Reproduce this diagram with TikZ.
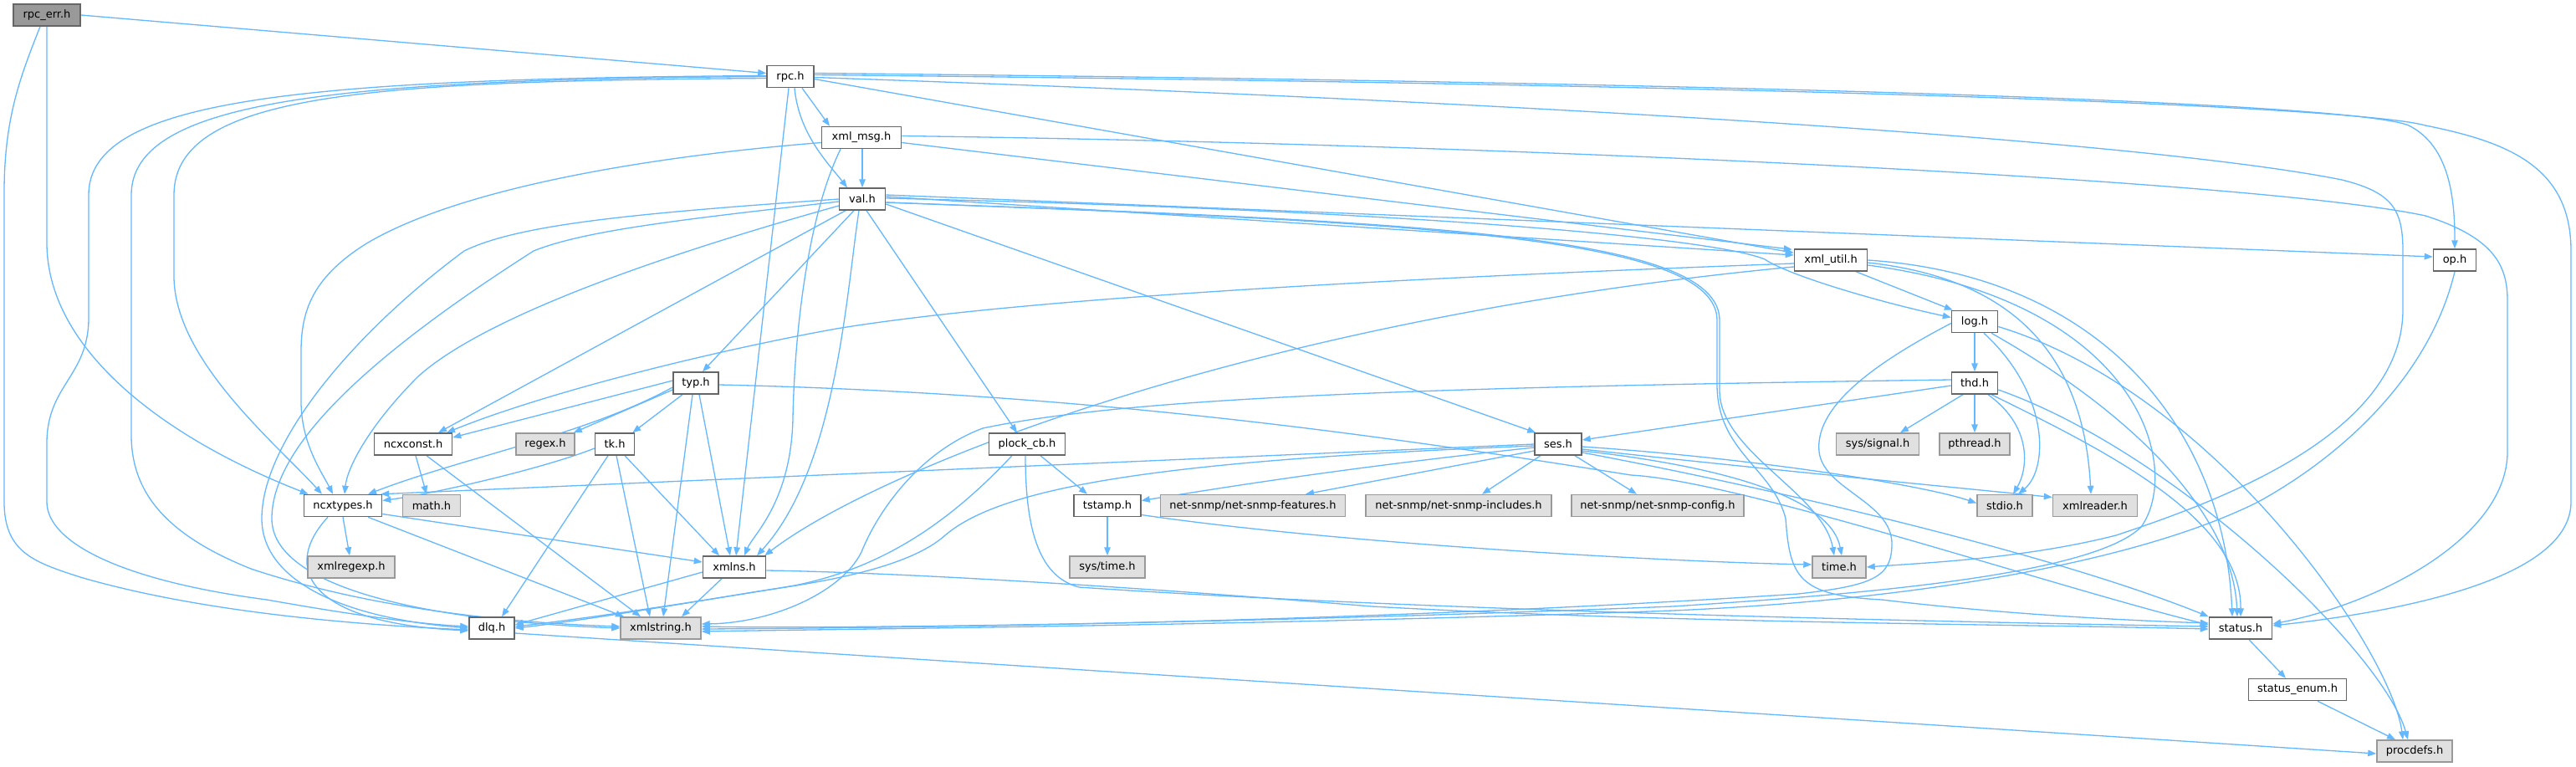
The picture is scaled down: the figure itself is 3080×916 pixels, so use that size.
\documentclass[tikz,border=0pt]{standalone}
\usepackage{fontspec}
\setmainfont{DejaVu Sans}
\usetikzlibrary{arrows.meta}
\definecolor{eblue}{HTML}{63B8FF}
\definecolor{nborder}{HTML}{666666}
\definecolor{xborder}{HTML}{999999}
\definecolor{xfill}{HTML}{E0E0E0}
\definecolor{cfill}{HTML}{999999}
\pgfdeclarelayer{back}
\pgfdeclarelayer{bg}
\pgfsetlayers{back,bg,main}
\begin{document}
\begin{tikzpicture}[x=1pt,y=-1pt,
  nd/.style={draw=nborder, fill=white, line width=1.5pt, minimum height=26pt, inner sep=0pt, font=\fontsize{13}{15}\selectfont, text=black},
  ext/.style={nd, draw=xborder, fill=xfill},
  cur/.style={nd, fill=cfill},
  e/.style={draw=eblue, line width=1.3pt, -{Triangle[length=10pt,width=7.5pt]}}]
\begin{pgfonlayer}{back}
\fill[white] (0,0) rectangle (3080,916);
\end{pgfonlayer}
\useasboundingbox (0,0) rectangle (3080,916);
% nodes
\node[cur, minimum width=80pt] (rpcerr) at (56,18) {rpc\_err.h};
\node[nd, minimum width=56pt] (rpc) at (945,91.5) {rpc.h};
\node[nd, minimum width=95pt] (xmlmsg) at (1030,164.5) {xml\_msg.h};
\node[nd, minimum width=55pt] (val) at (1031,238) {val.h};
\node[nd, minimum width=87pt] (xmlutil) at (2189,311) {xml\_util.h};
\node[nd, minimum width=51pt] (op) at (2935,311) {op.h};
\node[nd, minimum width=55pt] (log) at (2361,384.5) {log.h};
\node[nd, minimum width=54pt] (typ) at (832,458) {typ.h};
\node[nd, minimum width=55pt] (thd) at (2361,458) {thd.h};
\node[nd, minimum width=93pt] (ncxconst) at (494,531) {ncxconst.h};
\node[ext, minimum width=70pt] (regex) at (652,531) {regex.h};
\node[nd, minimum width=47pt] (tk) at (735,531) {tk.h};
\node[nd, minimum width=91pt] (plock) at (1228,531) {plock\_cb.h};
\node[nd, minimum width=56pt] (ses) at (1863,531) {ses.h};
\node[ext, minimum width=99pt] (syssignal) at (2245,531) {sys/signal.h};
\node[ext, minimum width=84pt] (pthread) at (2361,531) {pthread.h};
\node[nd, minimum width=93pt] (ncxtypes) at (410,604.5) {ncxtypes.h};
\node[ext, minimum width=69pt] (math) at (516,604.5) {math.h};
\node[nd, minimum width=80pt] (tstamp) at (1324,604.5) {tstamp.h};
\node[ext, minimum width=221pt] (nsfeat) at (1498,604.5) {net-snmp/net-snmp-features.h};
\node[ext, minimum width=222pt] (nsinc) at (1744,604.5) {net-snmp/net-snmp-includes.h};
\node[ext, minimum width=206pt] (nsconf) at (1982,604.5) {net-snmp/net-snmp-config.h};
\node[ext, minimum width=66pt] (stdio) at (2397,604.5) {stdio.h};
\node[ext, minimum width=101pt] (xmlreader) at (2505,604.5) {xmlreader.h};
\node[ext, minimum width=104pt] (xmlregexp) at (420,678) {xmlregexp.h};
\node[nd, minimum width=75pt] (xmlns) at (878,678) {xmlns.h};
\node[ext, minimum width=90pt] (systime) at (1324,678) {sys/time.h};
\node[ext, minimum width=64pt] (time) at (2199,678) {time.h};
\node[nd, minimum width=54pt] (dlq) at (588,751) {dlq.h};
\node[ext, minimum width=96pt] (xmlstring) at (790,751) {xmlstring.h};
\node[nd, minimum width=75pt] (status) at (2679,751) {status.h};
\node[nd, minimum width=117pt] (statusenum) at (2747,824.5) {status\_enum.h};
\node[ext, minimum width=90pt] (procdefs) at (2887,898) {procdefs.h};
\begin{pgfonlayer}{bg}
% rpc_err.h
\draw[e] (rpcerr.east) -- ([yshift=4pt]rpc.west);
\draw[e] (rpcerr.south) -- (56,290) .. controls (56,420) and (200,525) .. ([xshift=6pt]ncxtypes.north west);
\draw[e] ([xshift=-8pt]rpcerr.south) .. controls (25,90) and (5,140) .. (5,230) -- (5,600) .. controls (5,660) and (40,672) .. (96,690) .. controls (250,735) and (450,748) .. ([yshift=-2pt]dlq.west);
% rpc.h
\draw[e] ([xshift=14pt]rpc.south) -- ([xshift=-38pt]xmlmsg.north);
\draw[e] ([xshift=5pt]rpc.south) .. controls (955,160) and (990,195) .. ([xshift=-18pt]val.north);
\draw[e] ([xshift=-2pt]rpc.south) -- ([xshift=2pt]xmlns.north);
\draw[e] ([yshift=-2pt]rpc.west) .. controls (450,97) and (208,110) .. (208,233) -- (208,330) .. controls (208,430) and (330,530) .. ([xshift=-25pt]ncxtypes.north);
\draw[e] ([yshift=1pt]rpc.west) .. controls (350,94) and (106,120) .. (106,233) -- (106,380) .. controls (106,450) and (56,460) .. (56,530) -- (56,600) .. controls (56,650) and (150,695) .. (319,717) .. controls (420,735) and (500,746) .. ([yshift=2pt]dlq.west);
\draw[e] (rpc.west) .. controls (400,95) and (157,120) .. (157,233) -- (157,520) .. controls (157,590) and (200,640) .. (300,680) .. controls (450,730) and (620,745) .. ([yshift=2pt]xmlstring.west);
\draw[e] ([yshift=-3pt]rpc.east) -- ([yshift=-5pt]xmlutil.north west);
\draw[e] ([yshift=4pt]rpc.east) .. controls (2200,100) and (2820,125) .. (2880,150) .. controls (2930,175) and (2935,240) .. (op.north);
\draw[e] ([yshift=2pt]rpc.east) .. controls (2200,102) and (2820,128) .. (2900,150) .. controls (3000,170) and (3074,200) .. (3074,300) -- (3074,600) .. controls (3074,690) and (2880,730) .. ([yshift=3pt]status.east);
\draw[e] ([yshift=-1pt]rpc.east) .. controls (2000,128) and (2600,175) .. (2800,215) .. controls (2860,230) and (2873,250) .. (2873,300) -- (2873,370) .. controls (2873,520) and (2650,600) .. (2530,640) .. controls (2420,668) and (2300,673) .. (time.east);
% xml_msg.h
\draw[e] ([xshift=1pt]xmlmsg.south) -- (val.north);
\draw[e] ([yshift=-6pt]xmlmsg.west) .. controls (800,185) and (560,220) .. (440,290) .. controls (375,330) and (360,370) .. (360,420) -- (360,480) .. controls (360,530) and (385,565) .. ([xshift=-12pt]ncxtypes.north);
\draw[e] ([xshift=-25pt]xmlmsg.south) .. controls (965,260) and (950,400) .. (948,500) .. controls (946,600) and (900,640) .. ([xshift=12pt]xmlns.north);
\draw[e] ([yshift=-6pt]xmlmsg.east) -- ([xshift=-2pt,yshift=-1pt]xmlutil.north west);
\draw[e] ([yshift=2pt]xmlmsg.east) .. controls (1800,172) and (2700,215) .. (2900,258) .. controls (2985,285) and (2998,320) .. (2998,360) -- (2998,540) .. controls (2998,640) and (2850,720) .. ([yshift=5pt]status.east);
% val.h
\draw[e] (val.west) .. controls (760,255) and (620,268) .. (555,300) .. controls (420,400) and (313,530) .. (313,620) .. controls (313,690) and (400,738) .. (dlq.west);
\draw[e] ([yshift=-3pt]val.west) .. controls (820,262) and (700,275) .. (638,300) .. controls (450,420) and (325,530) .. (325,620) .. controls (325,700) and (500,742) .. (xmlstring.west);
\draw[e] ([yshift=-8pt]val.west) .. controls (900,275) and (600,360) .. (500,450) .. controls (440,510) and (415,560) .. ([xshift=2pt]ncxtypes.north);
\draw[e] ([xshift=-20pt]val.south) -- ([xshift=30pt]ncxconst.north);
\draw[e] ([xshift=-10pt]val.south) -- ([xshift=8pt]typ.north);
\draw[e] ([xshift=-4pt]val.south) .. controls (1012,350) and (1000,560) .. ([xshift=27pt]xmlns.north);
\draw[e] ([xshift=5pt]val.south) -- ([xshift=-12pt]plock.north);
\draw[e] ([yshift=-6pt]val.east) -- ([xshift=2pt]ses.north west);
\draw[e] ([yshift=3pt]val.east) -- ([yshift=6pt]xmlutil.west);
\draw[e] ([yshift=5pt]val.east) -- ([yshift=4pt]op.west);
\draw[e] ([yshift=1pt]val.east) .. controls (1700,252) and (2050,285) .. (2110,310) .. controls (2140,330) and (2250,362) .. ([yshift=5pt]log.west);
\draw[e] ([yshift=-4pt]val.east) .. controls (1700,265) and (2056,280) .. (2056,383) -- (2056,467) .. controls (2056,540) and (2180,590) .. ([xshift=-6pt]time.north);
\draw[e] ([yshift=-4pt]val.east) .. controls (1700,266) and (2053,282) .. (2053,383) -- (2053,460) .. controls (2053,540) and (2120,560) .. (2135,620) .. controls (2140,690) and (2150,712) .. (2250,717) .. controls (2400,735) and (2550,742) .. ([yshift=6pt]status.west);
% typ.h
\draw[e] ([yshift=3pt]typ.west) -- ([yshift=8pt]ncxconst.east);
\draw[e] ([yshift=-8pt]typ.west) -- ([xshift=-2pt]regex.north east);
\draw[e] ([xshift=-16pt]typ.south) -- ([xshift=-3pt]tk.north east);
\draw[e] ([yshift=-5pt]typ.west) .. controls (700,520) and (560,545) .. ([xshift=30pt]ncxtypes.north);
\draw[e] ([xshift=-4pt]typ.south) -- ([xshift=3pt]xmlstring.north);
\draw[e] ([xshift=4pt]typ.south) -- ([xshift=-5pt]xmlns.north);
\draw[e] ([yshift=-2pt]typ.east) .. controls (1300,470) and (1650,520) .. (1950,568) .. controls (2080,575) and (2450,700) .. ([yshift=4pt]status.west);
% tk.h
\draw[e] ([yshift=-5pt]tk.west) .. controls (650,560) and (520,590) .. ([yshift=6pt]ncxtypes.east);
\draw[e] ([xshift=-8pt]tk.south) -- ([xshift=12pt]dlq.north);
\draw[e] ([xshift=2pt]tk.south) -- ([xshift=-13pt]xmlstring.north);
\draw[e] ([xshift=12pt]tk.south) -- ([xshift=-18pt]xmlns.north);
% ncxconst.h
\draw[e] ([xshift=3pt]ncxconst.south) -- ([xshift=-6pt]math.north);
\draw[e] ([xshift=16pt]ncxconst.south) -- ([xshift=-24pt]xmlstring.north);
% ncxtypes.h
\draw[e] (ncxtypes.south) -- ([xshift=-2pt]xmlregexp.north);
\draw[e] ([yshift=-10pt]ncxtypes.east) -- ([yshift=6pt]xmlns.west);
\draw[e] ([xshift=-18pt]ncxtypes.south) .. controls (335,680) and (370,745) .. ([yshift=-3pt]dlq.west);
\draw[e] ([xshift=30pt]ncxtypes.south) -- ([xshift=-44pt]xmlstring.north);
% xmlns.h
\draw[e] ([yshift=-6pt]xmlns.west) -- ([yshift=4pt]dlq.east);
\draw[e] ([xshift=-15pt]xmlns.south) -- ([xshift=25pt]xmlstring.north);
\draw[e] ([yshift=-4pt]xmlns.east) .. controls (1050,684) and (1300,697) .. (1640,725) .. controls (2000,745) and (2400,746) .. ([yshift=-1pt]status.west);
% dlq.h
\draw[e] ([yshift=-6pt]dlq.east) -- ([yshift=-3pt]procdefs.west);
% plock_cb.h
\draw[e] ([xshift=16pt]plock.south) -- ([xshift=-24pt]tstamp.north);
\draw[e] ([xshift=-18pt]plock.south) .. controls (1130,630) and (1050,680) .. (950,700) .. controls (800,725) and (680,742) .. ([yshift=2pt]dlq.east);
\draw[e] ([xshift=-2pt]plock.south) .. controls (1226,640) and (1245,690) .. (1290,702) .. controls (1700,730) and (2300,743) .. ([yshift=2pt]status.west);
% ses.h
\draw[e] (ses.west) -- ([xshift=-2pt]ncxtypes.north east);
\draw[e] ([yshift=-4pt]ses.west) .. controls (1600,560) and (1450,585) .. ([yshift=6pt]tstamp.east);
\draw[e] ([yshift=-2pt]ses.west) .. controls (1400,550) and (1200,580) .. (1130,640) .. controls (1080,685) and (950,700) .. (900,708) .. controls (780,728) and (680,744) .. (dlq.east);
\draw[e] ([yshift=-8pt]ses.west) -- ([xshift=63pt]nsfeat.north);
\draw[e] ([xshift=-21pt]ses.south) -- ([xshift=28pt]nsinc.north);
\draw[e] ([xshift=20pt]ses.south) -- ([xshift=-25pt]nsconf.north);
\draw[e] ([yshift=-3pt]ses.east) .. controls (2100,548) and (2300,580) .. ([yshift=3pt]stdio.west);
\draw[e] ([yshift=-6pt]ses.east) .. controls (2100,560) and (2330,582) .. ([yshift=10pt]xmlreader.west);
\draw[e] ([yshift=-8pt]ses.east) .. controls (2080,560) and (2190,600) .. ([xshift=3pt]time.north);
\draw[e] ([yshift=-10pt]ses.east) .. controls (2100,580) and (2450,660) .. (status.north west);
% tstamp.h
\draw[e] (tstamp.south) -- (systime.north);
\draw[e] ([yshift=-11pt]tstamp.east) .. controls (1600,650) and (2000,672) .. ([yshift=3pt]time.west);
% xml_util.h
\draw[e] ([xshift=30pt]xmlutil.south) -- ([xshift=2pt]log.north west);
\draw[e] ([yshift=-4pt]xmlutil.west) .. controls (1600,335) and (1200,360) .. (1000,393) .. controls (850,420) and (650,470) .. ([xshift=40pt]ncxconst.north);
\draw[e] ([yshift=-8pt]xmlutil.west) .. controls (1500,380) and (1050,560) .. ([xshift=-2pt]xmlns.north east);
\draw[e] ([yshift=-3pt]xmlutil.east) .. controls (2380,330) and (2490,400) .. ([xshift=-5pt]xmlreader.north);
\draw[e] (xmlutil.east) .. controls (2520,330) and (2660,520) .. ([xshift=-10pt]status.north);
\draw[e] ([yshift=-6pt]xmlutil.east) .. controls (2560,360) and (2610,560) .. (2560,630) .. controls (2500,690) and (2200,712) .. (2000,725) .. controls (1500,745) and (1000,752) .. ([yshift=2pt]xmlstring.east);
% log.h
\draw[e] (log.south) -- (thd.north);
\draw[e] ([xshift=11pt]log.south) .. controls (2450,470) and (2450,560) .. ([xshift=16pt]stdio.north);
\draw[e] ([xshift=20pt]log.south) .. controls (2560,500) and (2670,620) .. ([xshift=-4pt]status.north);
\draw[e] ([yshift=-6pt]log.east) .. controls (2650,470) and (2860,780) .. ([xshift=-14pt]procdefs.north);
\draw[e] ([yshift=-2pt]log.west) .. controls (2230,440) and (2170,490) .. (2175,540) .. controls (2180,585) and (2262,600) .. (2262,650) .. controls (2262,690) and (2240,700) .. (2150,710) .. controls (1700,740) and (1200,750) .. ([yshift=-1pt]xmlstring.east);
% thd.h
\draw[e] ([yshift=-3pt]thd.west) -- ([yshift=5pt]ses.east);
\draw[e] ([yshift=4pt]thd.west) .. controls (1700,463) and (1350,475) .. (1175,512) .. controls (1100,540) and (1050,610) .. (1030,660) .. controls (1005,710) and (920,745) .. ([yshift=5pt]xmlstring.east);
\draw[e] ([xshift=-14pt]thd.south) -- ([xshift=27pt]syssignal.north);
\draw[e] (thd.south) -- (pthread.north);
\draw[e] ([xshift=16pt]thd.south) .. controls (2430,510) and (2425,560) .. ([xshift=10pt]stdio.north);
\draw[e] ([xshift=20pt]thd.south) .. controls (2520,540) and (2680,620) .. (status.north);
\draw[e] ([yshift=-8pt]thd.east) .. controls (2600,540) and (2850,780) .. ([xshift=-8pt]procdefs.north);
% op.h
\draw[e] (op.south) .. controls (2905,450) and (2800,545) .. (2700,600) .. controls (2560,670) and (2300,717) .. (2000,730) .. controls (1500,748) and (1000,752) .. ([yshift=-4pt]xmlstring.east);
% status.h, status_enum.h
\draw[e] ([xshift=10pt]status.south) -- ([xshift=-14pt]statusenum.north);
\draw[e] ([xshift=24pt]statusenum.south) -- ([xshift=-23pt]procdefs.north);
\end{pgfonlayer}
\end{tikzpicture}
\end{document}
